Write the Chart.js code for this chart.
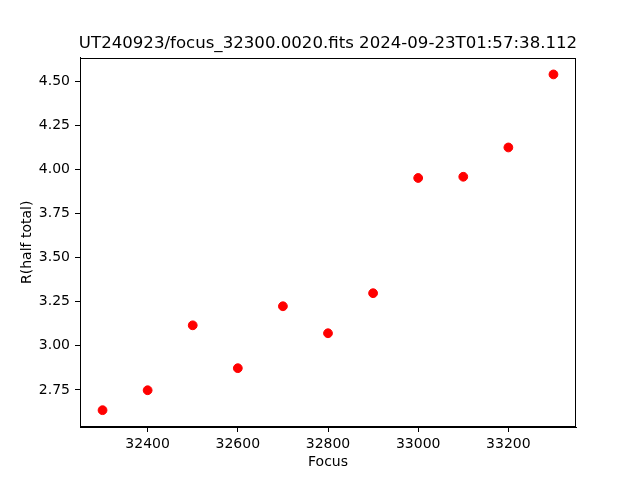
<!DOCTYPE html>
<html>
<head>
<meta charset="utf-8">
<script src="https://cdn.jsdelivr.net/npm/chart.js@4/dist/chart.umd.min.js"></script>
<style>
html,body{margin:0;padding:0;background:#fff;}
#wrap{width:640px;height:480px;position:relative;}
</style>
</head>
<body>
<div id="wrap"><canvas id="c" width="640" height="480"></canvas></div>
<script>
const focusValues = [32300, 32400, 32500, 32600, 32700, 32800, 32900, 33000, 33100, 33200, 33300];
const radiusValues = [2.635, 2.748, 3.116, 2.873, 3.224, 3.071, 3.298, 3.951, 3.958, 4.124, 4.538];
const xTicks = [32400, 32600, 32800, 33000, 33200];
const yTicks = [2.75, 3.00, 3.25, 3.50, 3.75, 4.00, 4.25, 4.50];
const titleText = 'UT240923/focus_32300.0020.fits 2024-09-23T01:57:38.112';

Chart.defaults.font.family = '"DejaVu Sans", sans-serif';
Chart.defaults.color = '#000';

const frame = {
  id: 'frame',
  afterDraw(chart) {
    const a = chart.chartArea, ctx = chart.ctx;
    ctx.save();
    ctx.strokeStyle = '#000';
    ctx.lineWidth = 1;
    ctx.strokeRect(Math.round(a.left) + 0.5, Math.round(a.top) + 0.5,
      Math.round(a.right - a.left) - 1, Math.round(a.bottom - a.top) - 1);
    // title centred over the axes, like the reference
    ctx.fillStyle = '#000';
    ctx.font = '16.6px "DejaVu Sans", sans-serif';
    ctx.textAlign = 'center';
    ctx.textBaseline = 'middle';
    ctx.fillText(titleText, (a.left + a.right) / 2, 44);
    ctx.restore();
  }
};

const xMin = 32250, xMax = 33350;
const yMin = 2.5397, yMax = 4.6333;

new Chart(document.getElementById('c'), {
  type: 'scatter',
  data: {
    datasets: [{
      data: focusValues.map((f, i) => ({x: f, y: radiusValues[i]})),
      backgroundColor: '#ff0000',
      borderColor: '#ff0000',
      borderWidth: 1,
      pointRadius: 4.4,
      pointHoverRadius: 4.4
    }]
  },
  options: {
    responsive: false,
    animation: false,
    events: [],
    layout: {padding: {left: 0, right: 64, top: 57.6, bottom: 0}},
    plugins: {
      legend: {display: false},
      tooltip: {enabled: false},
      title: {display: false}
    },
    scales: {
      x: {
        type: 'linear',
        min: xMin, max: xMax,
        afterBuildTicks: s => { s.ticks = xTicks.map(v => ({value: v})); },
        afterFit: s => { s.height = 53; },
        grid: {drawOnChartArea: false, drawTicks: true, tickLength: 5, color: '#000', tickWidth: 1},
        border: {display: true, color: '#000', width: 1},
        ticks: {font: {size: 14}, padding: 4, maxRotation: 0, callback: v => String(v)},
        title: {display: true, text: 'Focus', font: {size: 14}, padding: {top: 0, bottom: 9.6}}
      },
      y: {
        type: 'linear',
        min: yMin, max: yMax,
        afterBuildTicks: s => { s.ticks = yTicks.map(v => ({value: v})); },
        afterFit: s => { s.width = 80; },
        grid: {drawOnChartArea: false, drawTicks: true, tickLength: 5, color: '#000', tickWidth: 1},
        border: {display: true, color: '#000', width: 1},
        ticks: {font: {size: 14}, padding: 5, callback: v => Number(v).toFixed(2)},
        title: {display: true, text: 'R(half total)', font: {size: 14}, padding: {top: 18.6, bottom: 0}}
      }
    }
  },
  plugins: [frame]
});
</script>
</body>
</html>
